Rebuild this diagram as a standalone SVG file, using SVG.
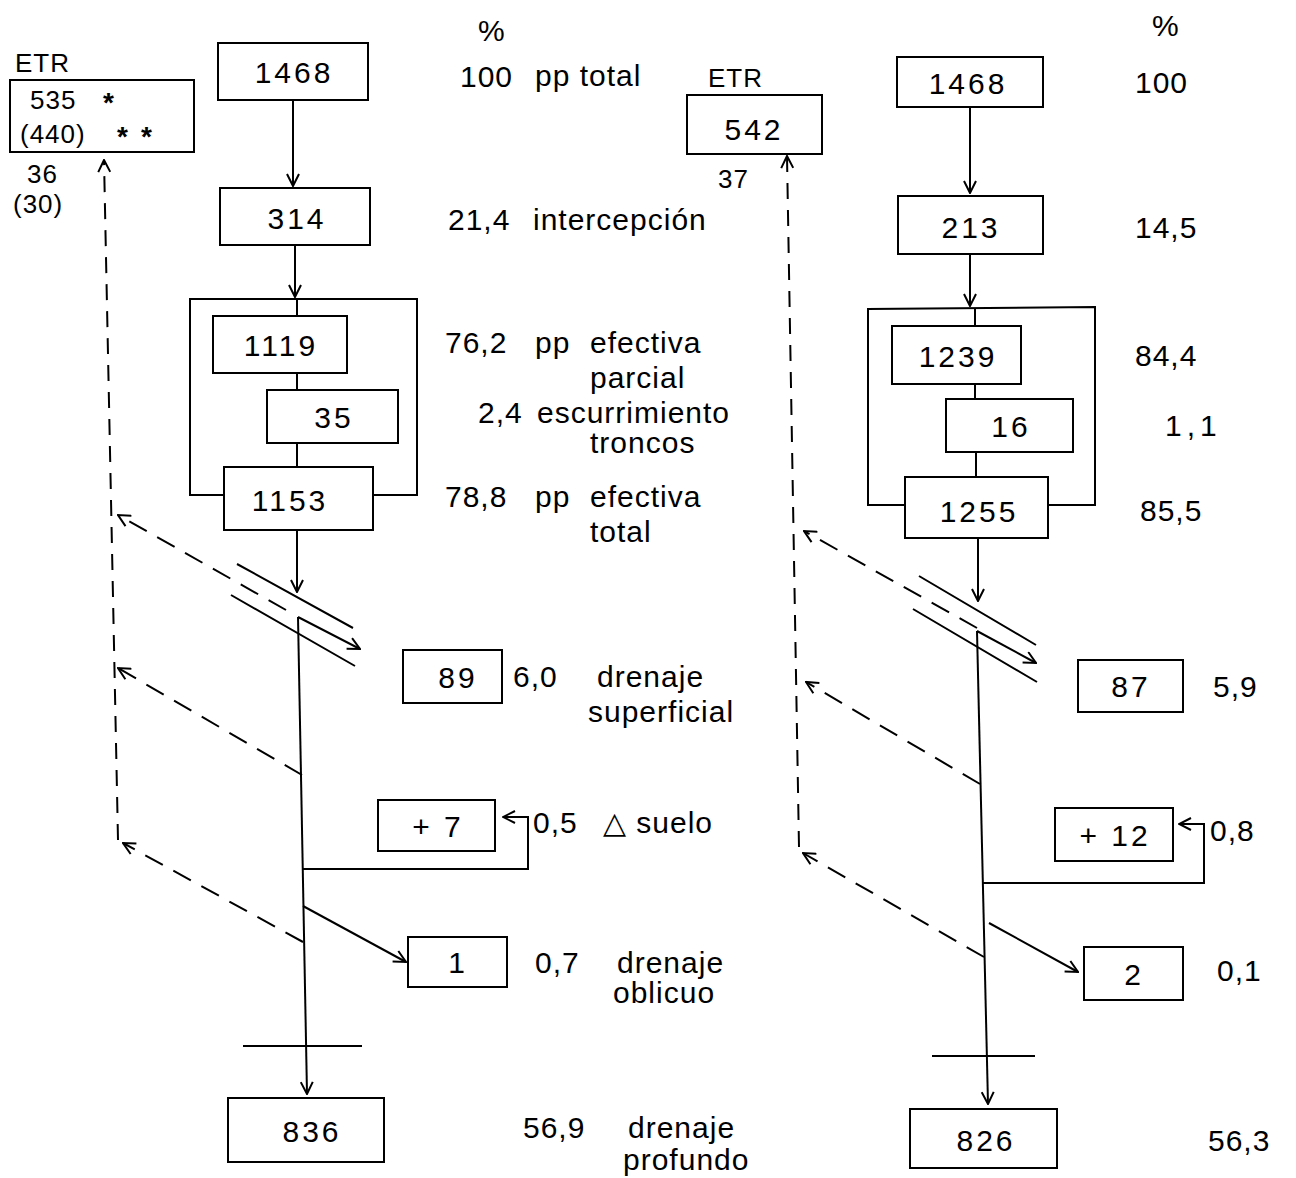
<svg xmlns="http://www.w3.org/2000/svg" width="1296" height="1178" viewBox="0 0 1296 1178">
<style>
.b{fill:none;stroke:#000;stroke-width:2}
.l{fill:none;stroke:#000;stroke-width:2}
.d{fill:none;stroke:#000;stroke-width:2;stroke-dasharray:20 12}
.dv{fill:none;stroke:#000;stroke-width:2;stroke-dasharray:16 11}
text{font-family:"Liberation Sans",Arial,sans-serif;font-size:30px;fill:#000}
.n{text-anchor:middle;letter-spacing:3px}
.t{letter-spacing:1px}
.s{font-size:26px;letter-spacing:1px}
.a{font-size:28px;font-weight:bold}
</style>
<defs>
<marker id="ah" viewBox="0 0 14 14" refX="13" refY="7" markerWidth="14" markerHeight="14" markerUnits="userSpaceOnUse" orient="auto">
<path d="M1,1 L13,7 L1,13" fill="none" stroke="#000" stroke-width="2"/>
</marker>
</defs>
<rect width="1296" height="1178" fill="#fff"/>

<g id="connectors">
<!-- left column -->
<path class="l" d="M293,100 L293,186" marker-end="url(#ah)"/>
<path class="l" d="M295,245 L295,297" marker-end="url(#ah)"/>
<path class="l" d="M225,495 L190,495 L190,299 L417,299 L417,495 L373,495"/>
<path class="l" d="M297,299 L297,316 M297,373 L297,390 M297,443 L297,467"/>
<path class="l" d="M297,530 L297,592" marker-end="url(#ah)"/>
<path class="l" d="M237,564 L353,628 M231,595 L355,666"/>
<path class="l" d="M298,617 L360,649" marker-end="url(#ah)"/>
<path class="l" d="M298,617 L307,1094" marker-end="url(#ah)"/>
<path class="l" d="M243,1046 L362,1046"/>
<path class="l" d="M303,869 L528,869 L528,817 L503,817" marker-end="url(#ah)"/>
<path class="l" d="M303,906 L406,962" marker-end="url(#ah)"/>
<path class="d" d="M286,610 L118,515" marker-end="url(#ah)"/>
<path class="d" d="M302,775 L118,668" marker-end="url(#ah)"/>
<path class="d" d="M303,942 L123,843" marker-end="url(#ah)"/>
<path class="dv" d="M118,840 L104,160" marker-end="url(#ah)"/>
<!-- right column -->
<path class="l" d="M970,107 L970,193" marker-end="url(#ah)"/>
<path class="l" d="M970,254 L970,306" marker-end="url(#ah)"/>
<path class="l" d="M905,505 L868,505 L868,309 L1095,307 L1095,505 L1048,505"/>
<path class="l" d="M975,309 L975,326 M975,384 L975,399 M976,452 L976,477"/>
<path class="l" d="M978,538 L978,601" marker-end="url(#ah)"/>
<path class="l" d="M919,576 L1036,645 M913,609 L1037,682"/>
<path class="l" d="M977,631 L1036,663" marker-end="url(#ah)"/>
<path class="l" d="M977,631 L988,1104" marker-end="url(#ah)"/>
<path class="l" d="M932,1056 L1035,1056"/>
<path class="l" d="M983,883 L1204,883 L1204,824 L1179,824" marker-end="url(#ah)"/>
<path class="l" d="M989,923 L1078,972" marker-end="url(#ah)"/>
<path class="d" d="M977,628 L804,531" marker-end="url(#ah)"/>
<path class="d" d="M980,784 L806,682" marker-end="url(#ah)"/>
<path class="d" d="M984,957 L803,853" marker-end="url(#ah)"/>
<path class="dv" d="M799,847 L787,156" marker-end="url(#ah)"/>
</g>

<!-- left column nodes -->
<g id="etr-left">
<text x="15" y="72" class="s">ETR</text>
<rect class="b" x="10" y="80" width="184" height="72"/>
<text x="30" y="109" class="s">535</text>
<text x="103" y="112" class="a">*</text>
<text x="20" y="143" class="s">(440)</text>
<text x="117" y="146" class="a">*</text>
<text x="141" y="146" class="a">*</text>
<text x="27" y="183" class="s">36</text>
<text x="13" y="213" class="s">(30)</text>
</g>
<g id="n1468a"><rect class="b" x="218" y="43" width="150" height="57"/><text x="294" y="83" class="n">1468</text></g>
<g id="n314"><rect class="b" x="220" y="188" width="150" height="57"/><text x="297" y="229" class="n">314</text></g>
<g id="n1119"><rect class="b" x="213" y="316" width="134" height="57"/><text x="281" y="356" class="n">1119</text></g>
<g id="n35"><rect class="b" x="267" y="390" width="131" height="53"/><text x="334" y="428" class="n">35</text></g>
<g id="n1153"><rect class="b" x="224" y="467" width="149" height="63"/><text x="290" y="511" class="n">1153</text></g>
<g id="n89"><rect class="b" x="403" y="650" width="99" height="53"/><text x="458" y="688" class="n">89</text></g>
<g id="n7"><rect class="b" x="378" y="800" width="117" height="51"/><text x="438" y="837" class="n">+ 7</text></g>
<g id="n1"><rect class="b" x="408" y="937" width="99" height="50"/><text x="458" y="973" class="n">1</text></g>
<g id="n836"><rect class="b" x="228" y="1098" width="156" height="64"/><text x="312" y="1142" class="n">836</text></g>

<g id="labels-left">
<text x="478" y="41">%</text>
<text x="460" y="87" class="t">100</text>
<text x="535" y="86" class="t">pp total</text>
<text x="448" y="230" class="t">21,4</text>
<text x="533" y="230" class="t">intercepción</text>
<text x="445" y="353" class="t">76,2 <tspan x="535">pp</tspan><tspan x="590">efectiva</tspan></text>
<text x="590" y="388" class="t">parcial</text>
<text x="478" y="423" class="t">2,4</text>
<text x="537" y="423" class="t">escurrimiento</text>
<text x="590" y="453" class="t">troncos</text>
<text x="445" y="507" class="t">78,8 <tspan x="535">pp</tspan><tspan x="590">efectiva</tspan></text>
<text x="590" y="542" class="t">total</text>
<text x="513" y="687" class="t">6,0</text>
<text x="597" y="687" class="t">drenaje</text>
<text x="588" y="722" class="t">superficial</text>
<text x="533" y="833" class="t">0,5</text>
<text x="603" y="833" class="t">△ suelo</text>
<text x="535" y="973" class="t">0,7</text>
<text x="617" y="973" class="t">drenaje</text>
<text x="613" y="1003" class="t">oblicuo</text>
<text x="523" y="1138" class="t">56,9</text>
<text x="628" y="1138" class="t">drenaje</text>
<text x="623" y="1170" class="t">profundo</text>
</g>

<!-- right column nodes -->
<g id="etr-right">
<text x="708" y="87" class="s">ETR</text>
<rect class="b" x="687" y="95" width="135" height="59"/>
<text x="754" y="140" class="n" font-size="28">542</text>
<text x="718" y="188" class="s">37</text>
</g>
<g id="n1468b"><rect class="b" x="897" y="57" width="146" height="50"/><text x="968" y="94" class="n">1468</text></g>
<g id="n213"><rect class="b" x="898" y="196" width="145" height="58"/><text x="971" y="238" class="n">213</text></g>
<g id="n1239"><rect class="b" x="892" y="326" width="129" height="58"/><text x="958" y="367" class="n">1239</text></g>
<g id="n16"><rect class="b" x="946" y="399" width="127" height="53"/><text x="1011" y="437" class="n">16</text></g>
<g id="n1255"><rect class="b" x="905" y="477" width="143" height="61"/><text x="979" y="522" class="n">1255</text></g>
<g id="n87"><rect class="b" x="1078" y="660" width="105" height="52"/><text x="1131" y="697" class="n">87</text></g>
<g id="n12"><rect class="b" x="1055" y="808" width="118" height="53"/><text x="1115" y="846" class="n">+ 12</text></g>
<g id="n2"><rect class="b" x="1084" y="947" width="99" height="53"/><text x="1134" y="985" class="n">2</text></g>
<g id="n826"><rect class="b" x="910" y="1109" width="147" height="59"/><text x="986" y="1151" class="n">826</text></g>

<g id="labels-right">
<text x="1152" y="36">%</text>
<text x="1135" y="93" class="t">100</text>
<text x="1135" y="238" class="t">14,5</text>
<text x="1135" y="366" class="t">84,4</text>
<text x="1165" y="436" letter-spacing="5">1,1</text>
<text x="1140" y="521" class="t">85,5</text>
<text x="1213" y="697" class="t">5,9</text>
<text x="1210" y="841" class="t">0,8</text>
<text x="1217" y="981" class="t">0,1</text>
<text x="1208" y="1151" class="t">56,3</text>
</g>
</svg>
